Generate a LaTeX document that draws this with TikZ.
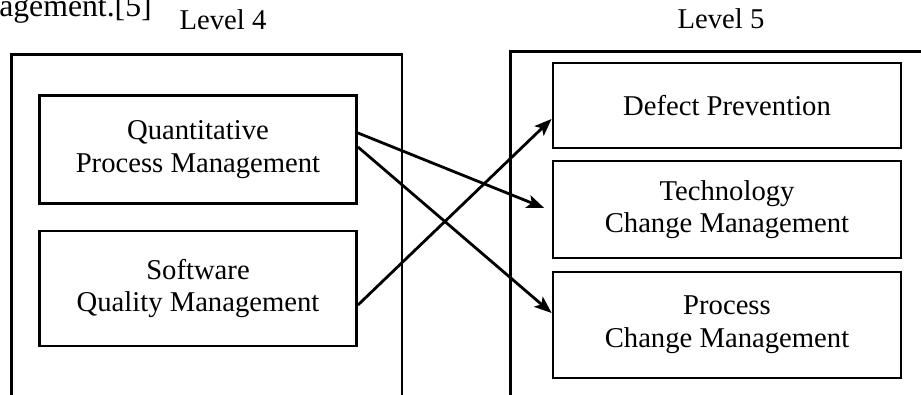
\documentclass[tikz,border=0pt]{standalone}
\usepackage{fontspec}
\setmainfont{Liberation Serif}
\usetikzlibrary{arrows.meta}
\begin{document}
\begin{tikzpicture}[x=0.75pt, y=-0.75pt,
  lw/.style={line width=2.1pt},
  container/.style={lw, draw, anchor=north west, inner sep=0pt},
  kpa/.style={lw, draw, align=center, inner sep=0pt,
    font=\fontsize{21.5}{24.5}\selectfont},
  lbl/.style={font=\fontsize{21.5}{24.5}\selectfont, inner sep=0pt},
  arr/.style={lw, -{Stealth[length=13pt, width=10pt, inset=3pt]}}]
  \useasboundingbox (0,0) rectangle (921,395);
  \clip (0,0) rectangle (921,395);

  % tail of the preceding sentence
  \node[lbl, anchor=base west, font=\fontsize{23.8}{26}\selectfont] (tail) at (-1,17) {agement.[5]};

  % level headings
  \node[lbl, anchor=base] (h4) at (223,30) {Level 4};
  \node[lbl, anchor=base] (h5) at (721,29) {Level 5};

  % level containers (open towards the bottom of the page)
  \node[container, minimum width=293pt, minimum height=280pt] (lvl4) at (10,53) {};
  \node[container, minimum width=330pt, minimum height=280pt] (lvl5) at (509,50) {};

  % level 4 key process areas
  \node[kpa, minimum width=237.75pt, minimum height=81pt] (q) at (198,149.5)
    {Quantitative\\Process Management};
  \node[kpa, minimum width=237.75pt, minimum height=86.25pt] (s) at (198,288.5)
    {Software\\Quality Management};

  % level 5 key process areas
  \node[kpa, minimum width=261pt, minimum height=63.75pt] (d) at (727,105.5)
    {Defect Prevention};
  \node[kpa, minimum width=261pt, minimum height=72.75pt] (t) at (727,209.5)
    {Technology\\Change Management};
  \node[kpa, minimum width=261pt, minimum height=79.5pt] (p) at (727,325)
    {Process\\Change Management};

  % relations between the levels
  \draw[arr, shorten >=6pt] ([yshift=12.4pt]q.east) -- ([yshift=-1.1pt]t.west);
  \draw[arr] ([yshift=1.9pt]q.east) -- ([yshift=9pt]p.west);
  \draw[arr] ([yshift=-12.4pt]s.east) -- ([yshift=-10.1pt]d.west);
\end{tikzpicture}
\end{document}
